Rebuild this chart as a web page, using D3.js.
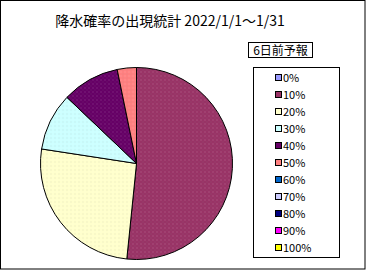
<!DOCTYPE html>
<html>
<head>
<meta charset="utf-8">
<script src="https://cdn.jsdelivr.net/npm/d3@7"></script>
<style>
  body { margin: 0; background: #fff; }
  text { font-family: "Noto Sans CJK JP", "DejaVu Sans", sans-serif; }
</style>
</head>
<body>
<svg id="chart"></svg>
<script>
// 降水確率ごとの出現日数 (31日間)
const categories = ["0%", "10%", "20%", "30%", "40%", "50%", "60%", "70%", "80%", "90%", "100%"];
const days = [0, 16, 8, 3, 3, 1, 0, 0, 0, 0, 0];
const colors = ["#9999ff", "#993366", "#ffffcc", "#ccffff", "#660066", "#ff8080",
  "#0066cc", "#ccccff", "#000080", "#ff00ff", "#ffff00"];
const titleText = "降水確率の出現統計 2022/1/1～1/31";
const subTitle = "6日前予報";

const W = 366, H = 270;
const svg = d3.select("#chart").attr("width", W).attr("height", H);

// outer frame
svg.append("rect")
  .attr("x", 0.5).attr("y", 0.5)
  .attr("width", W - 1.5).attr("height", H - 1.5)
  .attr("fill", "#fff").attr("stroke", "#000");

svg.append("text")
  .attr("x", 170).attr("y", 26)
  .attr("text-anchor", "middle")
  .attr("font-size", 14)
  .text(titleText);

// subtitle box
const sub = svg.append("g");
sub.append("rect")
  .attr("x", 248.5).attr("y", 42.5)
  .attr("width", 64).attr("height", 15)
  .attr("fill", "#fff").attr("stroke", "#000");
sub.append("text")
  .attr("x", 280.5).attr("y", 54.5)
  .attr("text-anchor", "middle")
  .attr("font-size", 12)
  .text(subTitle);

// dotted texture like the original
const defs = svg.append("defs");
colors.forEach((c, i) => {
  const p = defs.append("pattern")
    .attr("id", "pat" + i)
    .attr("width", 4).attr("height", 4)
    .attr("patternUnits", "userSpaceOnUse");
  p.append("rect").attr("width", 4).attr("height", 4).attr("fill", c);
  p.append("rect").attr("x", 0).attr("y", 0).attr("width", 1).attr("height", 1)
    .attr("fill", "#fff").attr("opacity", 0.25);
  p.append("rect").attr("x", 2).attr("y", 2).attr("width", 1).attr("height", 1)
    .attr("fill", "#888").attr("opacity", 0.25);
});

const data = categories.map((k, i) => ({ key: k, value: days[i], idx: i }));

const pie = d3.pie()
  .sort(null)
  .value(d => d.value);

const radius = 96;
const arc = d3.arc().innerRadius(0).outerRadius(radius);

const pieG = svg.append("g")
  .attr("transform", "translate(136.5,163.5)");

pieG.selectAll("path")
  .data(pie(data).filter(d => d.data.value > 0))
  .join("path")
    .attr("d", arc)
    .attr("fill", d => `url(#pat${d.data.idx})`)
    .attr("stroke", "#000")
    .attr("stroke-width", 1);

// legend
const legend = svg.append("g");
legend.append("rect")
  .attr("x", 253.5).attr("y", 67.5)
  .attr("width", 86).attr("height", 190)
  .attr("fill", "#fff").attr("stroke", "#000");

const ly = d3.scalePoint()
  .domain(categories)
  .range([78, 248]);

const items = legend.selectAll("g.item")
  .data(data)
  .join("g")
    .attr("class", "item")
    .attr("transform", d => `translate(0,${ly(d.key)})`);

items.append("rect")
  .attr("x", 275.5).attr("y", -3.5)
  .attr("width", 6).attr("height", 6)
  .attr("fill", d => colors[d.idx])
  .attr("stroke", "#000");

items.append("text")
  .attr("x", 283).attr("y", 4)
  .attr("font-size", 11)
  .text(d => d.key);
</script>
</body>
</html>
